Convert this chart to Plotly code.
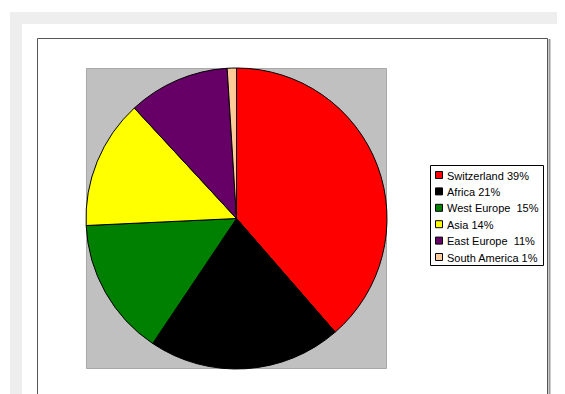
import plotly.graph_objects as go

# page is offset by the default 8px body margin
OFF = 8
W, H = 565 - OFF, 394 - OFF

labels = ["Switzerland 39%", "Africa 21%", "West Europe  15%", "Asia 14%", "East Europe  11%", "South America 1%"]
values = [39, 21, 15, 14, 11, 1]
colors = ["#ff0000", "#000000", "#008000", "#ffff00", "#660066", "#ffcc99"]

def px(x):
    return (x - OFF) / W

def py(y):
    return 1 - (y - OFF) / H

fig = go.Figure()
fig.add_trace(go.Pie(
    labels=labels, values=values, sort=False, direction="clockwise", rotation=0,
    marker=dict(colors=colors, line=dict(color="#000000", width=1)),
    textinfo="none", hoverinfo="label", showlegend=False,
    domain=dict(x=[px(86), px(387)], y=[py(369), py(68)]),
))

shapes = [
    dict(type="rect", xref="paper", yref="paper", x0=px(10), x1=px(566), y0=py(400), y1=py(12),
         fillcolor="#eeeeee", line=dict(width=0), layer="below"),
    dict(type="rect", xref="paper", yref="paper", x0=px(22), x1=px(562), y0=py(400), y1=py(24),
         fillcolor="#ffffff", line=dict(width=0), layer="below"),
    dict(type="line", xref="paper", yref="paper", x0=px(549.5), x1=px(549.5), y0=py(400), y1=py(39),
         line=dict(color="#999999", width=2), layer="below"),
    dict(type="rect", xref="paper", yref="paper", x0=px(37.5), x1=px(547.5), y0=py(400), y1=py(38.5),
         fillcolor="#ffffff", line=dict(color="#555555", width=1), layer="below"),
    dict(type="rect", xref="paper", yref="paper", x0=px(86.5), x1=px(386.5), y0=py(368.5), y1=py(68.5),
         fillcolor="#c0c0c0", line=dict(color="#a8a8a8", width=1), layer="below"),
    # legend box
    dict(type="rect", xref="paper", yref="paper", x0=px(430.5), x1=px(543.5), y0=py(265.5), y1=py(165.5),
         fillcolor="#ffffff", line=dict(color="#000000", width=1), layer="above"),
]

annotations = []
row0, step = 175, 16.4
for i, (lab, col) in enumerate(zip(labels, colors)):
    yc = row0 + i * step
    shapes.append(dict(type="rect", xref="paper", yref="paper",
                       x0=px(435.5), x1=px(442.5), y0=py(yc + 3.5), y1=py(yc - 3.5),
                       fillcolor=col, line=dict(color="#000000", width=1), layer="above"))
    annotations.append(dict(xref="paper", yref="paper", x=px(445), y=py(yc + 0.5),
                            xanchor="left", yanchor="middle", showarrow=False, text=lab,
                            font=dict(family="Liberation Sans, Arial", size=11, color="#000000")))

fig.update_layout(
    width=W, height=H, margin=dict(l=0, r=0, t=0, b=0),
    paper_bgcolor="#ffffff", plot_bgcolor="#ffffff",
    shapes=shapes, annotations=annotations,
    showlegend=False,
)

fig.write_html("out.html")
